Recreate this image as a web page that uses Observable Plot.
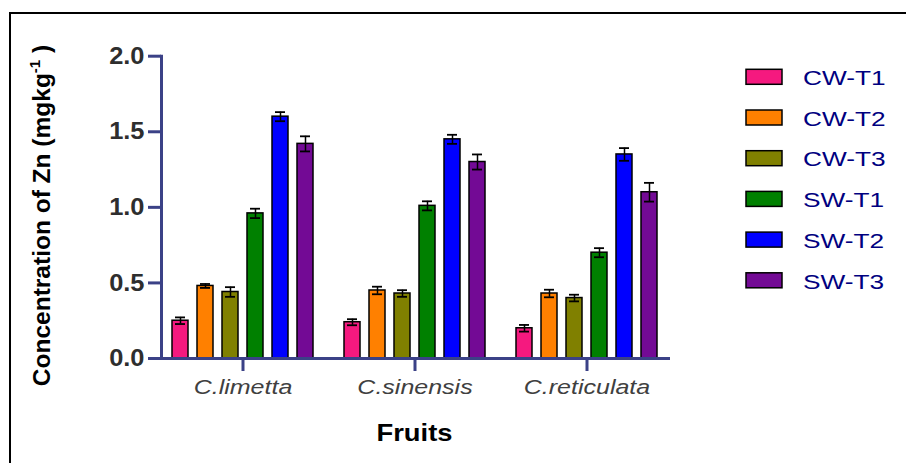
<!DOCTYPE html>
<html>
<head>
<meta charset="utf-8">
<script src="https://cdn.jsdelivr.net/npm/d3@7"></script>
<script src="https://cdn.jsdelivr.net/npm/@observablehq/plot@0.6"></script>
<style>
  html, body { margin: 0; padding: 0; background: #fff; }
  #wrap { position: relative; width: 906px; height: 463px; overflow: hidden; background: #fff; }
  #wrap svg { position: absolute; left: 0; top: 0; }
  #border { position: absolute; left: 9px; top: 12px; right: -5px; bottom: -5px;
            border-left: 2px solid #000; border-top: 2px solid #000; pointer-events: none; }
</style>
</head>
<body>
<div id="wrap"><div id="border"></div></div>
<script>
// ---- data ----
const fruits = ["C.limetta", "C.sinensis", "C.reticulata"];
const seriesNames = ["CW-T1", "CW-T2", "CW-T3", "SW-T1", "SW-T2", "SW-T3"];
const seriesColors = ["#f5197f", "#ff8000", "#808000", "#008000", "#0000ff", "#730a95"];

const cwT1 = [0.25, 0.24, 0.20];
const cwT2 = [0.48, 0.45, 0.43];
const cwT3 = [0.44, 0.43, 0.40];
const swT1 = [0.96, 1.01, 0.70];
const swT2 = [1.60, 1.45, 1.35];
const swT3 = [1.42, 1.30, 1.10];

const cwT1Err = [0.022, 0.020, 0.022];
const cwT2Err = [0.013, 0.025, 0.025];
const cwT3Err = [0.032, 0.022, 0.022];
const swT1Err = [0.031, 0.030, 0.030];
const swT2Err = [0.030, 0.030, 0.042];
const swT3Err = [0.050, 0.050, 0.062];

const yTicks = [0, 0.5, 1.0, 1.5, 2.0];

const valueLists = [cwT1, cwT2, cwT3, swT1, swT2, swT3];
const errLists = [cwT1Err, cwT2Err, cwT3Err, swT1Err, swT2Err, swT3Err];

const data = [];
fruits.forEach((f, fi) => {
  seriesNames.forEach((s, si) => {
    data.push({fruit: f, series: s, value: valueLists[si][fi], err: errLists[si][fi]});
  });
});

const axisColor = "#3b4187";
const font = "'Liberation Sans', Arial, sans-serif";

const chart = Plot.plot({
  width: 906,
  height: 463,
  marginLeft: 160,
  marginRight: 237,
  marginTop: 55.7,
  marginBottom: 105,
  style: {fontFamily: font, background: "transparent"},
  fx: {domain: fruits, paddingInner: 0.05, paddingOuter: 0, label: null},
  x: {domain: seriesNames, paddingInner: 0.34, paddingOuter: 0.39, axis: null},
  y: {domain: [0, 2], axis: null},
  color: {domain: seriesNames, range: seriesColors},
  marks: [
    Plot.barY(data, {fx: "fruit", x: "series", y: "value", fill: "series", stroke: "#000", strokeWidth: 1.5}),
    Plot.ruleX(data, {fx: "fruit", x: "series", y1: d => d.value - d.err, y2: d => d.value + d.err, stroke: "#000", strokeWidth: 1.5}),
    Plot.tickY(data, {fx: "fruit", x: "series", y: d => d.value + d.err, stroke: "#000", strokeWidth: 1.8, insetLeft: 3, insetRight: 3}),
    Plot.tickY(data, {fx: "fruit", x: "series", y: d => d.value - d.err, stroke: "#000", strokeWidth: 1.8, insetLeft: 3, insetRight: 3}),
    Plot.frame({anchor: "left", facet: "super", stroke: axisColor, strokeWidth: 3}),
    Plot.frame({anchor: "bottom", facet: "super", stroke: axisColor, strokeWidth: 3}),
    Plot.axisY({ticks: yTicks, tickFormat: d => d.toFixed(1), tickSize: 13, tickPadding: 4,
      fontSize: 24, fontWeight: "bold", fill: "#2e2e2e", stroke: axisColor, strokeWidth: 3, label: null}),
    Plot.axisFx({anchor: "bottom", tickSize: 13, tickPadding: 8, fontSize: 20, fontStyle: "italic",
      fill: "#404040", stroke: axisColor, strokeWidth: 3, label: null})
  ]
});

document.getElementById("wrap").insertBefore(chart, document.getElementById("border"));

function stretch(node, factor) {
  const L = node.getComputedTextLength();
  node.setAttribute("textLength", L * factor);
  node.setAttribute("lengthAdjust", "spacingAndGlyphs");
}

const svg = d3.select(chart);
svg.selectAll('g[aria-label="y-axis tick label"] text').each(function() { stretch(this, 1.06); });
svg.selectAll('g[aria-label="fx-axis tick label"] text').each(function() { stretch(this, 1.25); });

// x axis title
const fxScale = chart.scale("fx");
const xTitle = svg.append("text")
  .attr("x", fxScale.apply(fruits[1]) + fxScale.bandwidth / 2)
  .attr("y", 440.7)
  .attr("text-anchor", "middle")
  .attr("font-family", font)
  .attr("font-weight", "bold")
  .attr("font-size", 24)
  .attr("fill", "#000")
  .text("Fruits");
stretch(xTitle.node(), 1.14);

// y axis title
const yTitle = svg.append("text")
  .attr("transform", "translate(49.5,215.5) rotate(-90)")
  .attr("text-anchor", "middle")
  .attr("font-family", font)
  .attr("font-weight", "bold")
  .attr("font-size", 24.5)
  .attr("fill", "#000");
yTitle.append("tspan").text("Concentration of Zn (mgkg");
yTitle.append("tspan").attr("font-size", 15).attr("dy", -10).text("-1");
yTitle.append("tspan").attr("dy", 10).text(" )");

// legend
const color = chart.scale("color");
const lg = svg.append("g").attr("font-family", font);
seriesNames.forEach((s, i) => {
  const y0 = 69.3 + i * 40.7;
  lg.append("rect").attr("x", 746).attr("y", y0).attr("width", 36).attr("height", 15)
    .attr("fill", color.apply(s)).attr("stroke", "#000").attr("stroke-width", 1.5);
  const t = lg.append("text").attr("x", 803).attr("y", y0 + 15.7)
    .attr("font-size", 20.5).attr("fill", "#000080").attr("text-anchor", "start").text(s);
  stretch(t.node(), 1.28);
});
</script>
</body>
</html>
